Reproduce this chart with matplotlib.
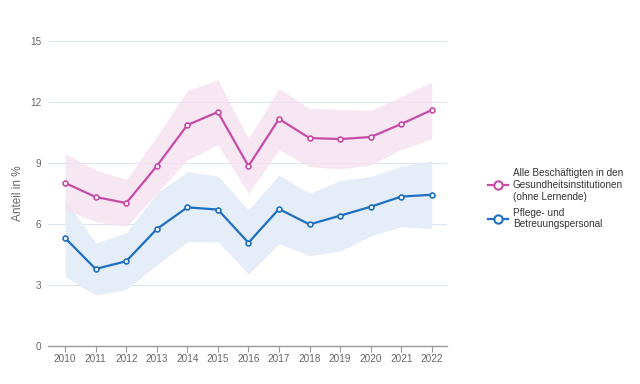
import matplotlib.pyplot as plt
from matplotlib.lines import Line2D

years = list(range(2010, 2023))

alle = [8.02, 7.33, 7.03, 8.85, 10.87, 11.51, 8.85, 11.17, 10.23, 10.18, 10.28, 10.92, 11.61]
alle_hi = [9.46, 8.66, 8.20, 10.30, 12.56, 13.10, 10.20, 12.67, 11.69, 11.64, 11.60, 12.26, 13.00]
alle_lo = [6.69, 6.12, 5.87, 7.51, 9.15, 9.89, 7.51, 9.64, 8.82, 8.71, 8.90, 9.67, 10.18]

pflege = [5.31, 3.79, 4.17, 5.75, 6.82, 6.71, 5.08, 6.74, 5.98, 6.41, 6.85, 7.35, 7.44]
pflege_hi = [7.18, 5.07, 5.56, 7.52, 8.57, 8.36, 6.69, 8.41, 7.51, 8.13, 8.33, 8.85, 9.11]
pflege_lo = [3.41, 2.51, 2.79, 3.98, 5.13, 5.13, 3.54, 5.02, 4.44, 4.67, 5.41, 5.87, 5.77]

yticks = [0, 3, 6, 9, 12, 15]
labels = ["Alle Beschäftigten in den\nGesundheitsinstitutionen\n(ohne Lernende)",
          "Pflege- und\nBetreuungspersonal"]

PINK = "#c64ca7"
BLUE = "#1d6fc2"
TXT = "#666666"

plt.rcParams["font.family"] = ["Liberation Sans", "DejaVu Sans"]

fig = plt.figure(figsize=(6.4, 3.84), dpi=100)
ax = fig.add_axes([0.075, 0.099, 0.623, 0.794])

ax.fill_between(years, pflege_lo, pflege_hi, color="#e5edf9", lw=0, zorder=1)
ax.fill_between(years, alle_lo, alle_hi, color="#f6e2f1", alpha=0.8, lw=0, zorder=1)

ax.plot(years, alle, color=PINK, lw=1.6, marker="o", ms=3.5, mfc="white",
        mec=PINK, mew=1.2, zorder=3)
ax.plot(years, pflege, color=BLUE, lw=1.6, marker="o", ms=3.5, mfc="white",
        mec=BLUE, mew=1.2, zorder=3)

ax.set_xlim(2009.44, 2022.49)
ax.set_ylim(0, 15)
ax.set_yticks(yticks)
ax.set_xticks(years)
for y in yticks[1:]:
    ax.axhline(y, color="#dde4f2", lw=0.8, zorder=0)

for s in ["top", "right", "left"]:
    ax.spines[s].set_visible(False)
ax.spines["bottom"].set_color("#999999")
ax.spines["bottom"].set_linewidth(1.0)
ax.tick_params(axis="y", length=0, labelsize=7.2, labelcolor=TXT, pad=5)
ax.tick_params(axis="x", length=4, color="#999999", labelsize=7.2, labelcolor=TXT, pad=2)
ax.set_ylabel("Anteil in %", fontsize=8.5, color=TXT, labelpad=4)

handles = [
    Line2D([], [], color=PINK, lw=1.6, marker="o", ms=6, mfc="white", mec=PINK, mew=1.5),
    Line2D([], [], color=BLUE, lw=1.6, marker="o", ms=6, mfc="white", mec=BLUE, mew=1.5),
]
fig.legend(handles, labels, loc="upper left", bbox_to_anchor=(0.748, 0.585),
           frameon=False, fontsize=7.2, handlelength=2.0, handletextpad=0.5,
           labelspacing=0.6, labelcolor="#333333")

fig.savefig("out.png", dpi=100)
